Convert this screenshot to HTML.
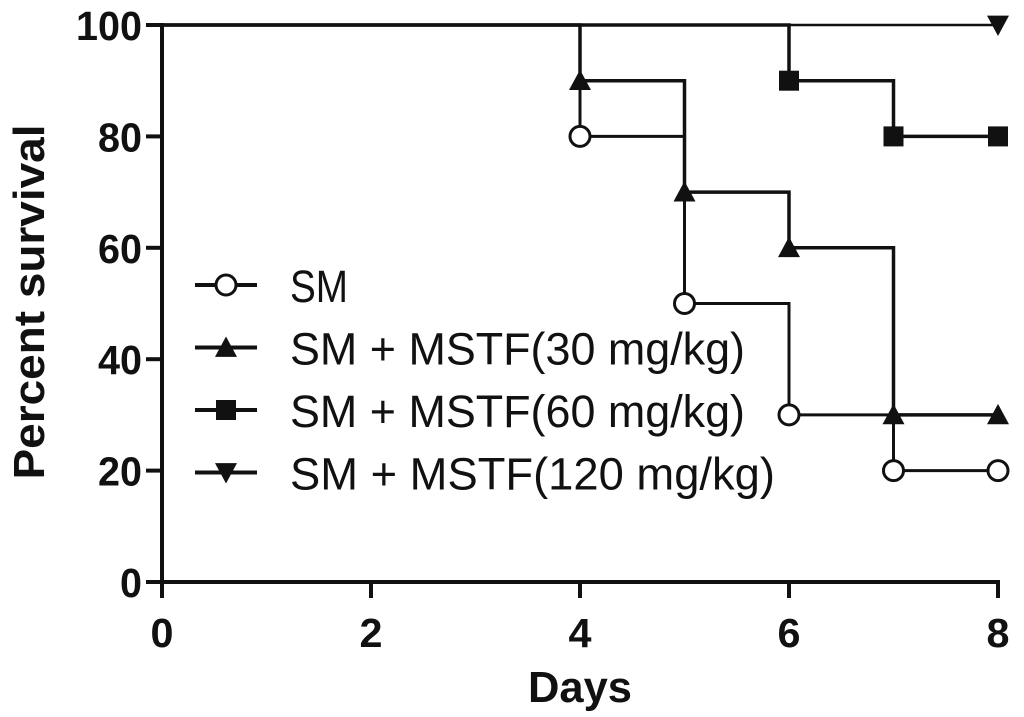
<!DOCTYPE html>
<html><head><meta charset="utf-8"><style>
body{margin:0;background:#fff;}
svg{display:block;font-family:"Liberation Sans",Arial,sans-serif;}
</style></head><body>
<svg id="chart" width="1024" height="717"></svg>
<script>
const days = [0, 4, 5, 6, 7, 8];
const smVals = [100, 80, 50, 30, 20, 20];
const s30Vals = [100, 90, 70, 60, 30, 30];
const s60Days = [0, 6, 7, 8];
const s60Vals = [100, 90, 80, 80];
const s120Days = [0, 8];
const s120Vals = [100, 100];
const xTicks = [0, 2, 4, 6, 8];
const yTicks = [0, 20, 40, 60, 80, 100];
const seriesNames = ["SM", "SM + MSTF(30 mg/kg)", "SM + MSTF(60 mg/kg)", "SM + MSTF(120 mg/kg)"];

const NS = "http://www.w3.org/2000/svg";
const svg = document.getElementById('chart');
const X = d => 162 + d * 104.5;
const Y = v => 582 - v * 5.57;
function mk(tag, attrs, parent) {
  const e = document.createElementNS(NS, tag);
  for (const k in attrs) e.setAttribute(k, attrs[k]);
  (parent || svg).appendChild(e);
  return e;
}
const ax = mk('g', {});


mk('line', {x1: X(0), y1: Y(100) - 2, x2: X(0), y2: Y(0) + 2, stroke: '#111', 'stroke-width': 4}, ax);
mk('line', {x1: X(0) - 2, y1: Y(0), x2: X(8) + 2, y2: Y(0), stroke: '#111', 'stroke-width': 4}, ax);
xTicks.forEach(t => {
  mk('line', {x1: X(t), y1: Y(0), x2: X(t), y2: Y(0) + 16, stroke: '#111', 'stroke-width': 4}, ax);
  const tx = mk('text', {x: X(t), y: Y(0) + 65, 'text-anchor': 'middle', 'font-size': 41, 'font-weight': 'bold', fill: '#111', textLength: 23, lengthAdjust: 'spacingAndGlyphs'}, ax);
  tx.textContent = t;
  
  
});
yTicks.forEach(t => {
  mk('line', {x1: X(0) - 16, y1: Y(t), x2: X(0), y2: Y(t), stroke: '#111', 'stroke-width': 4}, ax);
  const s = String(t);
  const tx = mk('text', {x: X(0) - 20, y: Y(t) + 15, 'text-anchor': 'end', 'font-size': 41, 'font-weight': 'bold', fill: '#111', textLength: s.length * 22, lengthAdjust: 'spacingAndGlyphs'}, ax);
  tx.textContent = s;
  
  
});
const xt = mk('text', {x: 580, y: 702, 'text-anchor': 'middle', 'font-size': 44, 'font-weight': 'bold', fill: '#111', textLength: 104, lengthAdjust: 'spacingAndGlyphs'});
xt.textContent = 'Days';


const yt = mk('text', {x: 0, y: 0, transform: 'translate(44,302) rotate(-90)', 'text-anchor': 'middle', 'font-size': 44, 'font-weight': 'bold', fill: '#111', textLength: 355, lengthAdjust: 'spacingAndGlyphs'});
yt.textContent = 'Percent survival';



function marker(type, cx, cy, parent) {
  const s = 11;
  if (type === 'circle') return mk('circle', {cx, cy, r: 10, fill: '#fff', stroke: '#111', 'stroke-width': 3}, parent);
  if (type === 'tri') return mk('polygon', {points: `${cx},${cy - s} ${cx - s},${cy + s * 0.85} ${cx + s},${cy + s * 0.85}`, fill: '#111'}, parent);
  if (type === 'sq') return mk('rect', {x: cx - 10, y: cy - 10, width: 20, height: 20, fill: '#111'}, parent);
  return mk('polygon', {points: `${cx},${cy + s} ${cx - s},${cy - s * 0.85} ${cx + s},${cy - s * 0.85}`, fill: '#111'}, parent);
}
function series(ds, vs, type, name, sw) {
  const g = mk('g', {});
  
  
  let d = `M${X(ds[0])},${Y(vs[0])}`;
  for (let i = 1; i < ds.length; i++) d += ` H${X(ds[i])} V${Y(vs[i])}`;
  mk('path', {d, fill: 'none', stroke: '#111', 'stroke-width': sw}, g);
  for (let i = 1; i < ds.length; i++) {
    const m = marker(type, X(ds[i]), Y(vs[i]), g);
    
    
  }
}
series(s120Days, s120Vals, 'dtri', 'series-120mg', 2.5);
series(s60Days, s60Vals, 'sq', 'series-60mg', 3.5);
series(days, s30Vals, 'tri', 'series-30mg', 3.5);
series(days, smVals, 'circle', 'series-sm', 3);

const types = ['circle', 'tri', 'sq', 'dtri'];
const lg = mk('g', {});


const widths = [58, 455, 455, 485];
seriesNames.forEach((n, i) => {
  const y = 285 + i * 62.5;
  const e = mk('g', {}, lg);
  
  
  mk('line', {x1: 195, y1: y, x2: 257, y2: y, stroke: '#111', 'stroke-width': 4}, e);
  marker(types[i], 226, y, e);
  const t = mk('text', {x: 290, y: y + 17, 'font-size': 45, fill: '#111', textLength: widths[i], lengthAdjust: 'spacingAndGlyphs'}, e);
  t.textContent = n;
});
</script>
</body></html>
